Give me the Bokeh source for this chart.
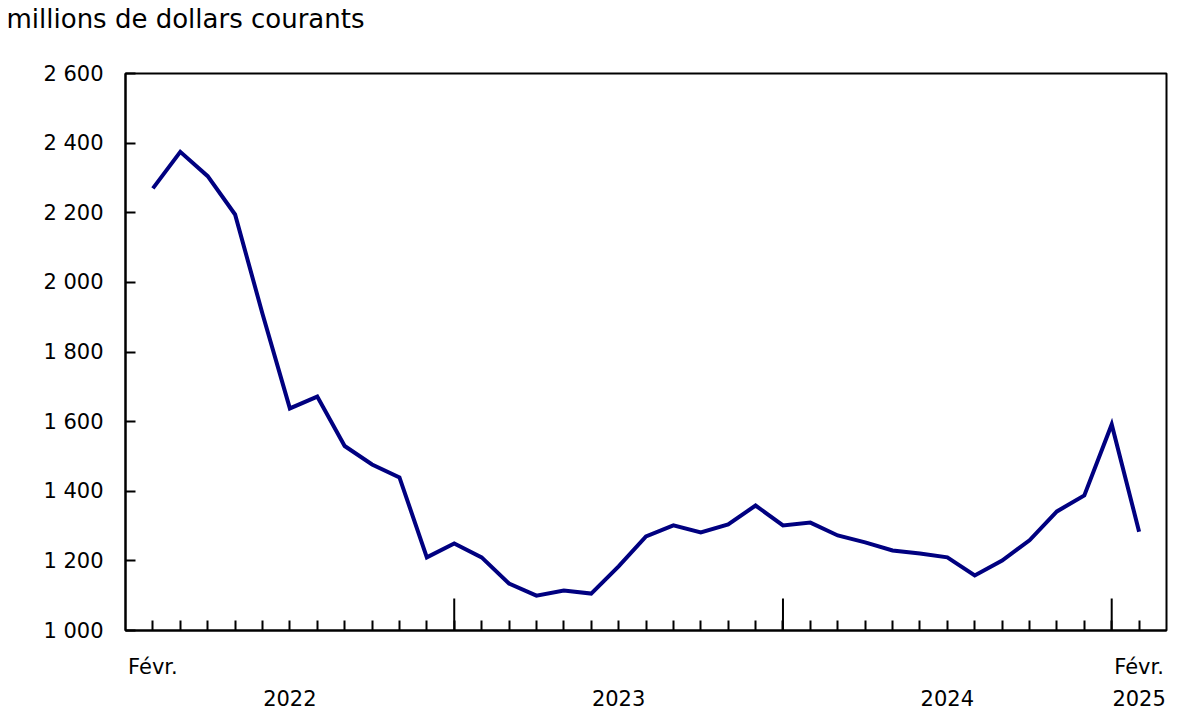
from bokeh.plotting import figure
from bokeh.models import Range1d, FixedTicker
from bokeh.embed import file_html
from bokeh.resources import INLINE

# Data: monthly values, Feb 2022 -> Feb 2025 (millions of current dollars)
months = list(range(37))
values = [2270, 2375, 2305, 2195, 1910, 1638, 1672, 1530, 1477, 1440,
          1210, 1250, 1210, 1135, 1100, 1115, 1106, 1184, 1270, 1302,
          1282, 1305, 1359, 1302, 1310, 1273, 1253, 1230, 1221, 1210,
          1158, 1201, 1259, 1342, 1388, 1592, 1284]
january_idx = [11, 23, 35]
y_ticks = [1000, 1200, 1400, 1600, 1800, 2000, 2200, 2400, 2600]
y_labels = ["1 000", "1 200", "1 400", "1 600", "1 800", "2 000", "2 200", "2 400", "2 600"]
x_label_pos = [0, 5, 17, 29, 36]
x_labels = ["Févr.", "\n2022", "\n2023", "\n2024", "Févr.\n2025"]
title_text = "millions de dollars courants"

FONT = "DejaVu Sans"
FS = "21px"

p = figure(width=1178, height=716, output_backend="svg", toolbar_location=None,
           x_range=Range1d(-1, 37), y_range=Range1d(1000, 2600),
           min_border_left=125, min_border_right=12, min_border_top=73,
           min_border_bottom=86)
# trailing empty line lifts the unit title towards the top of the canvas
p.title.text = title_text + "\n"
p.title.align = "left"
p.title.vertical_align = "bottom"
p.title.offset = -119
p.title.standoff = 2
p.title.text_font = FONT
p.title.text_font_size = "26px"
p.title.text_line_height = 1.3
p.title.text_font_style = "normal"
p.title.text_color = "black"

p.grid.visible = False
p.background_fill_color = "white"
p.border_fill_color = "white"
p.outline_line_color = "black"
p.outline_line_width = 2
p.outline_line_alpha = 1

# y axis
p.yaxis.ticker = FixedTicker(ticks=y_ticks)
p.yaxis.major_label_overrides = {t: l for t, l in zip(y_ticks, y_labels)}
p.yaxis.major_tick_in = 10
p.yaxis.major_tick_out = 0
p.yaxis.minor_tick_in = 0
p.yaxis.minor_tick_out = 0
p.yaxis.major_tick_line_width = 2
p.yaxis.axis_line_width = 2
p.yaxis.major_label_standoff = 22
p.yaxis.major_label_text_font = FONT
p.yaxis.major_label_text_font_size = FS
p.yaxis.major_label_text_color = "black"

# x axis
p.xaxis.ticker = FixedTicker(ticks=x_label_pos, minor_ticks=months)
p.xaxis.major_label_overrides = {t: l for t, l in zip(x_label_pos, x_labels)}
p.xaxis.major_tick_in = 0
p.xaxis.major_tick_out = 0
p.xaxis.minor_tick_in = 10
p.xaxis.minor_tick_out = 0
p.xaxis.minor_tick_line_width = 2
p.xaxis.minor_tick_line_color = "black"
p.xaxis.axis_line_width = 2
p.xaxis.major_label_standoff = 24
p.xaxis.major_label_text_font = FONT
p.xaxis.major_label_text_font_size = FS
p.xaxis.major_label_text_color = "black"
p.xaxis.major_label_text_line_height = 1.35

# tall January ticks
p.segment(x0=january_idx, x1=january_idx, y0=[1000] * 3, y1=[1092] * 3,
          line_color="black", line_width=2)

p.line(months, values, line_color="#000080", line_width=4, line_join="miter")

open("out.html", "w").write(file_html(p, INLINE))
